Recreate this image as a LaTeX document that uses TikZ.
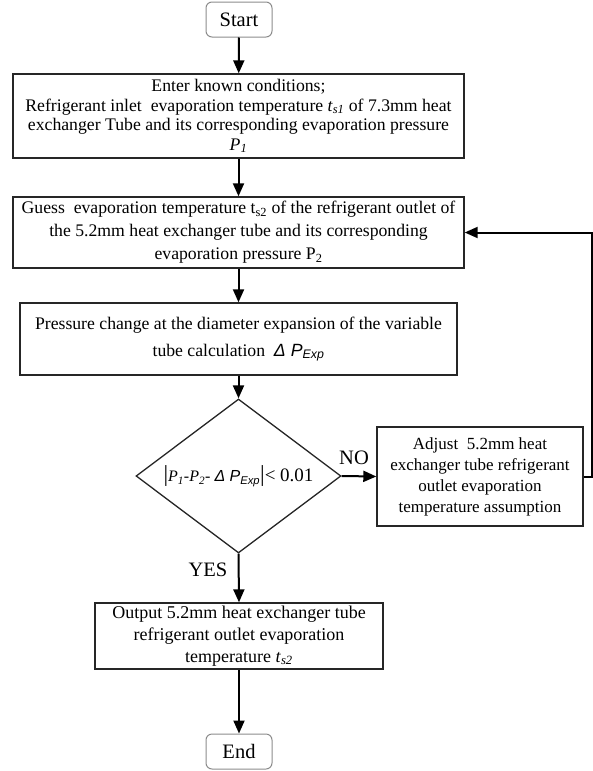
\documentclass[tikz,border=0pt]{standalone}
\usepackage{fontspec}
\setmainfont{Liberation Serif}
\newfontfamily\sansf{Liberation Sans}
\usetikzlibrary{shapes.geometric,arrows.meta}
\begin{document}
\begin{tikzpicture}[x=1pt,y=-1pt,
  box/.style={draw=black!85, line width=1.4pt, align=center, inner sep=0pt},
  term/.style={draw=black!45, rounded corners=6pt, line width=1pt, inner sep=0pt, font=\fontsize{20.5}{22}\selectfont},
  arr/.style={line width=2pt, -{Triangle[length=13pt,width=11pt]}},
  lab/.style={font=\fontsize{20.5}{22}\selectfont, inner sep=0pt}]
\useasboundingbox (0,0) rectangle (593,771);
\node[term, minimum width=66pt, minimum height=35pt] (start) at (239,19.5) {Start};
\node[box, minimum width=451pt, minimum height=84pt, font=\fontsize{17.7}{19.5}\selectfont] (b1) at (238.5,116)
  {Enter known conditions;\\ Refrigerant inlet\ \ evaporation temperature \textit{t}\textsubscript{\textit{s1}} of 7.3mm heat\\ exchanger Tube and its corresponding evaporation pressure\\ \textit{P}\textsubscript{\textit{1}}};
\node[box, minimum width=451pt, minimum height=71pt, font=\fontsize{17.7}{23}\selectfont] (b2) at (238.5,232.5)
  {Guess\ \ evaporation temperature t\textsubscript{s2} of the refrigerant outlet of\\ the 5.2mm heat exchanger tube and its corresponding\\ evaporation pressure P\textsubscript{2}};
\node[box, minimum width=437pt, minimum height=72pt, font=\fontsize{17.7}{27}\selectfont] (b3) at (238.5,339)
  {Pressure change at the diameter expansion of the variable\\ tube calculation\ \ {\sansf\itshape Δ P\textsubscript{Exp}}};
\node[diamond, draw=black!85, line width=1.3pt, aspect=1.33, inner sep=0pt, minimum width=205pt, minimum height=154pt] (dec) at (238.5,476)
  {{\fontsize{23}{24}\selectfont|}{\fontsize{16}{20}\selectfont\textit{P}\textsubscript{\textit{1}}-\textit{P}\textsubscript{\textit{2}}- {\sansf\itshape Δ P\textsubscript{Exp}}}{\fontsize{23}{24}\selectfont|}{\fontsize{19}{24}\selectfont< 0.01}};
\node[box, minimum width=206pt, minimum height=99pt, font=\fontsize{17}{21}\selectfont] (adj) at (480,476.5)
  {Adjust\ \ 5.2mm heat\\ exchanger tube refrigerant\\ outlet evaporation\\ temperature assumption};
\node[box, minimum width=288pt, minimum height=66pt, font=\fontsize{18}{22}\selectfont] (out) at (239,636)
  {Output 5.2mm heat exchanger tube\\ refrigerant outlet evaporation\\ temperature \textit{t}\textsubscript{\textit{s2}}};
\node[term, minimum width=66pt, minimum height=35pt] (end) at (239,751.5) {End};
\node[lab] (no) at (354,458) {NO};
\node[lab] (yes) at (208,570) {YES};
\coordinate (fb1) at (592,476.5);
\coordinate (fb2) at (592,232.5);
\draw[arr] (start) -- (b1);
\draw[arr] (b1) -- (b2);
\draw[arr] (b2) -- (b3);
\draw[arr] (b3) -- (dec);
\draw[arr] (dec.east) -- (adj.west);
\draw[arr] (dec.south) -- (out.north);
\draw[arr] (out) -- (end);
\draw[arr] (adj.east) -- (fb1) -- (fb2) -- (b2.east);
\end{tikzpicture}
\end{document}
